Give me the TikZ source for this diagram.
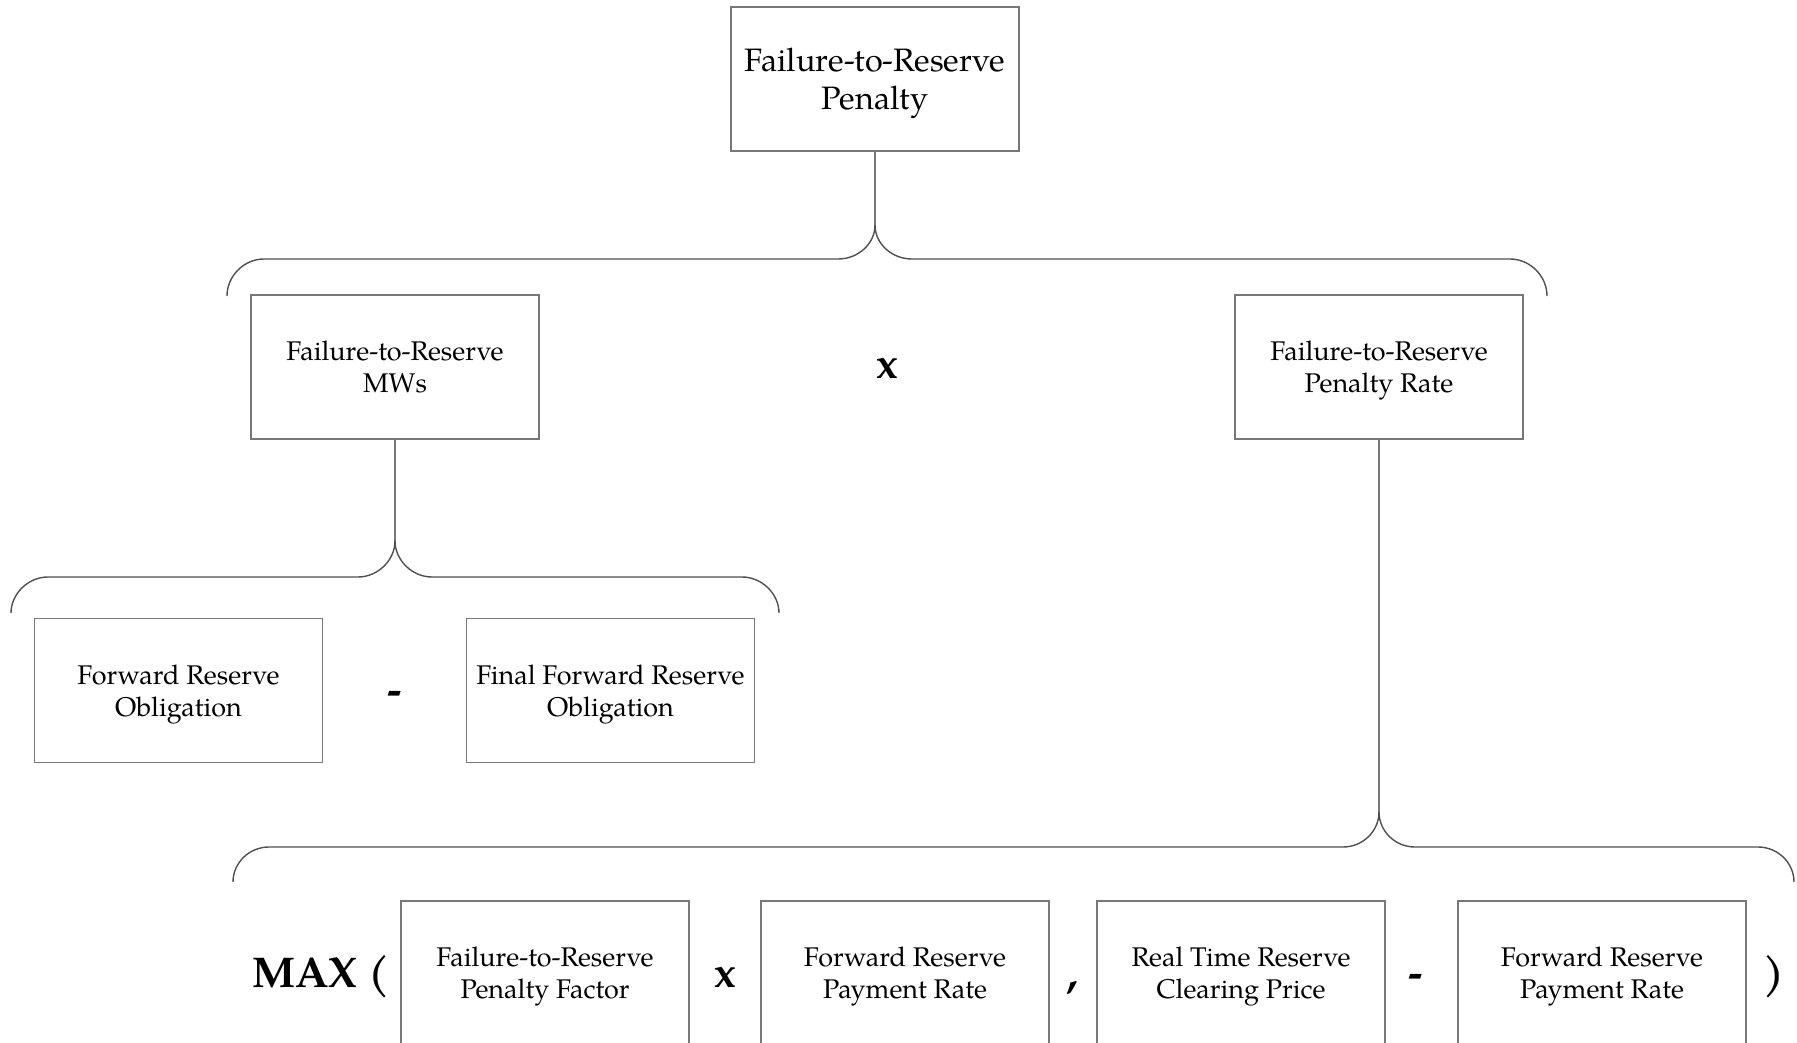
\documentclass[tikz,border=0pt]{standalone}
\usepackage{fontspec}
\setmainfont{TeX Gyre Pagella}
\newcommand\myboxfont{\fontsize{27}{32}\selectfont}
\newcommand\mytopfont{\fontsize{32.4}{38}\selectfont}
\newcommand\myopfont{\fontsize{43}{50}\selectfont\bfseries}
\newcommand\nodepth[1]{\raisebox{0pt}[\height][0pt]{#1}}
\definecolor{boxgray}{RGB}{120,120,120}
\definecolor{bracegray}{RGB}{80,80,80}
\begin{document}
\begin{tikzpicture}[x=1pt,y=-1pt,
  box/.style={draw=boxgray, line width=1.8pt, minimum width=288pt, minimum height=144pt, inner sep=0pt, align=center, font=\myboxfont},
  topbox/.style={box, font=\mytopfont},
  brace/.style={draw=bracegray, line width=1.4pt},
  op/.style={anchor=base, inner sep=0pt, font=\myopfont}]
\fill[white] (0,0) rectangle (1797,1043);
\useasboundingbox (0,0) rectangle (1797,1043);

% boxes
\node[topbox] (top) at (875,79) {Failure-to-Reserve\\\nodepth{Penalty}};
\node[box] (mws) at (395,367) {Failure-to-Reserve\\\nodepth{MWs}};
\node[box] (rate) at (1379,367) {Failure-to-Reserve\\\nodepth{Penalty Rate}};
\node[box] (fro) at (178.5,690.5) {Forward Reserve\\\nodepth{Obligation}};
\node[box] (ffro) at (610.5,690.5) {Final Forward Reserve\\\nodepth{Obligation}};
\node[box] (pf) at (545,973) {Failure-to-Reserve\\\nodepth{Penalty Factor}};
\node[box] (fpr1) at (905,973) {Forward Reserve\\\nodepth{Payment Rate}};
\node[box] (rtcp) at (1241,973) {Real Time Reserve\\\nodepth{Clearing Price}};
\node[box] (fpr2) at (1602,973) {Forward Reserve\\\nodepth{Payment Rate}};

% operators
\node[op] (opx1) at (887,378) {x};
\node[op] (opm1) at (395,704) {-};
\node[op] (maxo) at (321,987) {MAX (};
\node[op] (opx2) at (725,987) {x};
\node[op] (opc) at (1073,987) {,};
\node[op] (opm2) at (1416,987) {-};
\node[op] (opcl) at (1774,987) {)};

% cusps
\coordinate (c1) at (875,225);
\coordinate (c2) at (395,541);
\coordinate (c3) at (1379,812);

% stems
\draw[boxgray, line width=1.6pt] (top.south) -- (c1);
\draw[boxgray, line width=1.6pt] (mws.south) -- (c2);
\draw[boxgray, line width=1.6pt] (rate.south) -- (c3);

% brace 1
\draw[brace] (227,296) .. controls (227,276) and (244,259) .. (264,259) -- (838,259)
  .. controls (858,259) and (875,244) .. (c1);
\draw[brace] (c1) .. controls (875,244) and (892,259) .. (912,259) -- (1510,259)
  .. controls (1530,259) and (1547,276) .. (1547,296);

% brace 2
\draw[brace] (11,613) .. controls (11,594) and (28,577) .. (48,577) -- (358,577)
  .. controls (378,577) and (395,560) .. (c2);
\draw[brace] (c2) .. controls (395,560) and (412,577) .. (432,577) -- (742,577)
  .. controls (762,577) and (779,594) .. (779,613);

% brace 3
\draw[brace] (233,882) .. controls (233,863) and (249,847) .. (269,847) -- (1343,847)
  .. controls (1363,847) and (1379,831) .. (c3);
\draw[brace] (c3) .. controls (1379,831) and (1395,847) .. (1415,847) -- (1758,847)
  .. controls (1778,847) and (1794,863) .. (1794,882);
\end{tikzpicture}
\end{document}
